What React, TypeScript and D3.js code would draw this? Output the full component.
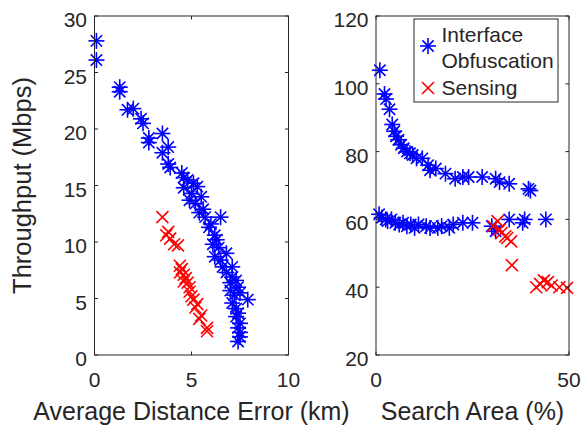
import React from "react";
import * as d3 from "d3";

const leftInterface: [number, number][] = [
  [0.1, 27.8], [0.1, 26.1], [1.3, 23.7], [1.3, 23.3], [1.7, 21.7], [2.0, 21.8], [2.4, 20.9], [2.5, 20.5],
  [2.8, 19.2], [2.8, 18.8], [3.5, 19.6], [3.5, 17.9], [3.8, 18.4], [3.8, 16.9], [3.9, 16.6], [4.5, 16.1],
  [4.6, 15.7], [4.8, 15.5], [5.1, 15.2], [4.6, 14.8], [5.3, 14.9], [5.0, 14.3], [4.9, 13.7], [5.2, 13.4],
  [5.5, 14.0], [5.4, 12.6], [5.6, 12.9], [5.7, 12.2], [6.5, 12.2], [5.9, 11.3], [6.0, 11.6], [6.2, 10.6],
  [6.3, 10.2], [6.1, 9.8], [6.4, 9.5], [6.8, 9.0], [6.2, 8.7], [6.5, 8.4], [6.6, 7.8], [7.1, 7.8],
  [6.8, 7.3], [7.1, 6.9], [7.0, 6.4], [7.3, 6.6], [7.0, 5.7], [7.4, 6.0], [7.2, 5.3], [7.5, 5.5],
  [7.9, 4.9], [7.1, 4.6], [7.3, 4.1], [7.4, 3.7], [7.3, 3.4], [7.5, 2.8], [7.4, 2.4], [7.5, 2.0],
  [7.5, 1.6], [7.4, 1.2],
];
const leftSensing: [number, number][] = [
  [3.5, 12.2], [3.8, 10.9], [3.7, 10.6], [3.9, 10.3], [4.1, 9.8], [4.3, 9.7], [4.4, 7.9], [4.5, 7.6],
  [4.4, 7.3], [4.6, 7.1], [4.7, 6.8], [4.6, 6.5], [4.8, 6.4], [4.9, 6.0], [4.9, 5.6], [5.0, 5.2],
  [5.1, 4.9], [5.3, 4.5], [5.2, 4.2], [5.5, 3.5], [5.4, 3.2], [5.8, 2.4], [5.8, 2.1],
];
const rightInterface: [number, number][] = [
  [1.0, 104], [2.2, 97], [2.6, 95.5], [3.5, 92.5], [4.2, 88], [4.7, 86], [5.2, 84.5], [5.8, 83.5],
  [6.5, 82], [7.2, 81], [8.0, 80], [8.8, 79.5], [9.5, 79], [10.5, 78], [12, 78], [13.5, 76],
  [14, 74.5], [15.5, 75], [18, 73.5], [20.5, 72], [22.5, 72.5], [24, 72.5], [27.5, 72.5], [31, 72],
  [32, 71], [34.5, 70.5], [39.5, 69], [40, 68.5],
  [0.8, 61.5], [1.5, 60.5], [2.5, 60], [3, 59.5], [4, 60], [5, 59], [6, 58.5], [7, 59],
  [8, 58], [9, 58.5], [10, 57.5], [11, 58.5], [13, 58], [14, 57.5], [16, 57.5], [17, 58],
  [19, 57.5], [20, 58.5], [22.5, 59], [25, 59], [30, 58], [31, 56.5], [34.5, 60], [38, 59],
  [38.5, 60], [44, 60],
];
const rightSensing: [number, number][] = [
  [30.3, 58], [31.5, 59.5], [32, 57], [32.5, 56], [33.5, 55], [34, 54.5], [35, 53.5], [35.2, 46.5],
  [41.5, 40], [42.5, 41], [43.5, 42], [44.5, 41.5], [45.5, 40.5], [47.5, 40], [49.5, 39.8],
];
const leftXTicks = [0, 5, 10];
const leftYTicks = [0, 5, 10, 15, 20, 25, 30];
const rightXTicks = [0, 50];
const rightYTicks = [20, 40, 60, 80, 100, 120];
const legendLabels = ["Interface\nObfuscation", "Sensing"];

const FONT = "'Liberation Sans', Arial, Helvetica, sans-serif";
const AX = "#262626";
const BLUE = "#0000ff";
const RED = "#ff0000";

function Star({ x, y, r = 8 }: { x: number; y: number; r?: number }) {
  const d = r * 0.707;
  return (
    <g stroke={BLUE} strokeWidth={1.6}>
      <line x1={x - r} y1={y} x2={x + r} y2={y} />
      <line x1={x} y1={y - r} x2={x} y2={y + r} />
      <line x1={x - d} y1={y - d} x2={x + d} y2={y + d} />
      <line x1={x - d} y1={y + d} x2={x + d} y2={y - d} />
    </g>
  );
}
function Cross({ x, y, r = 6 }: { x: number; y: number; r?: number }) {
  return (
    <g stroke={RED} strokeWidth={1.6}>
      <line x1={x - r} y1={y - r} x2={x + r} y2={y + r} />
      <line x1={x - r} y1={y + r} x2={x + r} y2={y - r} />
    </g>
  );
}

function Axes({
  x0, x1, y0, y1, xDom, yDom, xTicks, yTicks, blue, red, xLabel, yLabel,
}: {
  x0: number; x1: number; y0: number; y1: number; xDom: [number, number]; yDom: [number, number];
  xTicks: number[]; yTicks: number[]; blue: [number, number][]; red: [number, number][];
  xLabel: string; yLabel?: string;
}) {
  const xs = d3.scaleLinear().domain(xDom).range([x0, x1]);
  const ys = d3.scaleLinear().domain(yDom).range([y0, y1]);
  const tl = 3.5;
  return (
    <g>
      <g>
        {blue.map((p, i) => <Star key={"b" + i} x={xs(p[0])} y={ys(p[1])} />)}
        {red.map((p, i) => <Cross key={"r" + i} x={xs(p[0])} y={ys(p[1])} />)}
      </g>
      <rect x={x0} y={y1} width={x1 - x0} height={y0 - y1} fill="none" stroke={AX} strokeWidth={1} />
      {xTicks.map((t) => (
        <g key={"xt" + t}>
          <line x1={xs(t)} x2={xs(t)} y1={y0} y2={y0 - tl} stroke={AX} />
          <line x1={xs(t)} x2={xs(t)} y1={y1} y2={y1 + tl} stroke={AX} />
          <text x={xs(t)} y={y0 + 31.7} textAnchor="middle" fontSize={21} fill={AX} fontFamily={FONT}>{t}</text>
        </g>
      ))}
      {yTicks.map((t) => (
        <g key={"yt" + t}>
          <line x1={x0} x2={x0 + tl} y1={ys(t)} y2={ys(t)} stroke={AX} />
          <line x1={x1} x2={x1 - tl} y1={ys(t)} y2={ys(t)} stroke={AX} />
          <text x={x0 - 7.5} y={ys(t) + 11} textAnchor="end" fontSize={21} fill={AX} fontFamily={FONT}>{t}</text>
        </g>
      ))}
      <text x={(x0 + x1) / 2} y={419.5} textAnchor="middle" fontSize={25} fill={AX} fontFamily={FONT}>{xLabel}</text>
      {yLabel && (
        <text transform={`translate(31,${(y0 + y1) / 2}) rotate(-90)`} textAnchor="middle" fontSize={25.5} fill={AX} fontFamily={FONT}>{yLabel}</text>
      )}
    </g>
  );
}

export default function App() {
  const lx = 414, ly = 19, lw = 144, lh = 83;
  const lines0 = legendLabels[0].split("\n");
  return (
    <svg width={584} height={428} style={{ position: "absolute", left: 0, top: 0, background: "#fff" }}>
      <rect width={584} height={428} fill="#fff" />
      <Axes x0={94.5} x1={288.5} y0={355} y1={16} xDom={[0, 10]} yDom={[0, 30]} xTicks={leftXTicks} yTicks={leftYTicks}
        blue={leftInterface} red={leftSensing} xLabel="Average Distance Error (km)" yLabel="Throughput (Mbps)" />
      <Axes x0={376} x1={569} y0={355} y1={16} xDom={[0, 50]} yDom={[20, 120]} xTicks={rightXTicks} yTicks={rightYTicks}
        blue={rightInterface} red={rightSensing} xLabel="Search Area (%)" />
      <rect x={lx} y={ly} width={lw} height={lh} fill="#fff" stroke={AX} strokeWidth={1} />
      <Star x={428} y={46} />
      <text x={441.5} y={42} fontSize={21} fill={AX} fontFamily={FONT}>{lines0[0]}</text>
      <text x={441.5} y={68} fontSize={21} fill={AX} fontFamily={FONT}>{lines0[1]}</text>
      <Cross x={428} y={88} />
      <text x={441.5} y={95} fontSize={21} fill={AX} fontFamily={FONT}>{legendLabels[1]}</text>
    </svg>
  );
}
